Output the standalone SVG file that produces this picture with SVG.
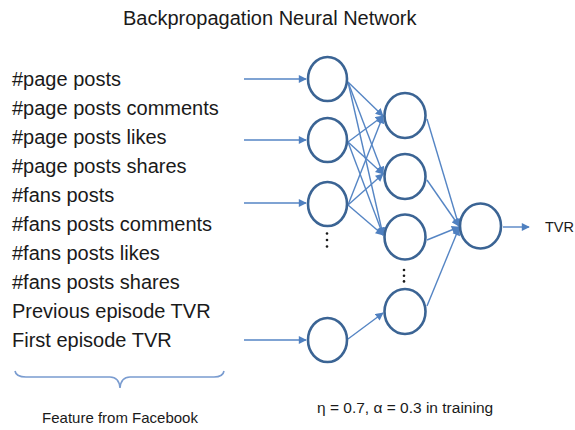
<svg xmlns="http://www.w3.org/2000/svg" width="575" height="430" viewBox="0 0 575 430">
<style>
  .t { font-family: "Liberation Sans", Arial, sans-serif; fill: #1a1a1a; }
  .lbl { font-size: 20px; }
  .node { fill: #ffffff; stroke: #3b6494; stroke-width: 2.6; }
  .edge { stroke: #5585c4; stroke-width: 1.4; fill: none; marker-end: url(#arr); }
  .dot { fill: #1a1a1a; }
</style>
<defs>
  <marker id="arr" viewBox="0 0 10 10" refX="9" refY="5" markerWidth="9" markerHeight="8" markerUnits="userSpaceOnUse" orient="auto">
    <path d="M0,0 L10,5 L0,10 z" fill="#4f80c0"/>
  </marker>
</defs>

<text class="t" x="123" y="25" font-size="20">Backpropagation Neural Network</text>

<g id="features">
  <text class="t lbl" x="12" y="86">#page posts</text>
  <text class="t lbl" x="12" y="115">#page posts comments</text>
  <text class="t lbl" x="12" y="144">#page posts likes</text>
  <text class="t lbl" x="12" y="173">#page posts shares</text>
  <text class="t lbl" x="12" y="202">#fans posts</text>
  <text class="t lbl" x="12" y="231">#fans posts comments</text>
  <text class="t lbl" x="12" y="260">#fans posts likes</text>
  <text class="t lbl" x="12" y="289">#fans posts shares</text>
  <text class="t lbl" x="12" y="318">Previous episode TVR</text>
  <text class="t lbl" x="12" y="347">First episode TVR</text>
</g>

<g id="brace">
  <path d="M15,371 Q16,377 26,377 L110,377 Q119,377 120,388 Q121,377 130,377 L214,377 Q223,377 224,371" fill="none" stroke="#7a9cd0" stroke-width="1.6"/>
  <text class="t" x="120" y="423" font-size="15" text-anchor="middle">Feature from Facebook</text>
</g>

<text class="t" x="317" y="413" font-size="15.5">η = 0.7, α = 0.3 in training</text>

<g id="connectors">
  <line class="edge" x1="244" y1="79" x2="306" y2="79"/>
  <line class="edge" x1="244" y1="140" x2="306" y2="140"/>
  <line class="edge" x1="244" y1="203" x2="306" y2="203"/>
  <line class="edge" x1="244" y1="340" x2="306" y2="340"/>

  <line class="edge" x1="348" y1="82" x2="383" y2="116"/>
  <line class="edge" x1="348" y1="82" x2="383" y2="174"/>
  <line class="edge" x1="348" y1="82" x2="383" y2="235"/>
  <line class="edge" x1="348" y1="142" x2="383" y2="116"/>
  <line class="edge" x1="348" y1="142" x2="383" y2="174"/>
  <line class="edge" x1="348" y1="142" x2="383" y2="235"/>
  <line class="edge" x1="348" y1="205" x2="383" y2="116"/>
  <line class="edge" x1="348" y1="205" x2="383" y2="174"/>
  <line class="edge" x1="348" y1="205" x2="383" y2="235"/>
  <line class="edge" x1="348" y1="339" x2="383" y2="313"/>

  <line class="edge" x1="427" y1="119" x2="459" y2="226"/>
  <line class="edge" x1="427" y1="180" x2="459" y2="226"/>
  <line class="edge" x1="427" y1="240" x2="459" y2="227"/>
  <line class="edge" x1="427" y1="306" x2="459" y2="228"/>

  <line class="edge" x1="503" y1="227" x2="529" y2="227"/>
</g>

<g id="in1"><ellipse class="node" cx="327.5" cy="79" rx="19.5" ry="22"/></g>
<g id="in2"><ellipse class="node" cx="327.5" cy="140" rx="19.5" ry="22"/></g>
<g id="in3"><ellipse class="node" cx="327.5" cy="204" rx="19.5" ry="22"/></g>
<g id="in4"><ellipse class="node" cx="327.5" cy="340" rx="19.5" ry="22"/></g>
<g id="in-dots">
  <circle class="dot" cx="327" cy="233.5" r="1.3"/>
  <circle class="dot" cx="327" cy="240" r="1.3"/>
  <circle class="dot" cx="327" cy="246.5" r="1.3"/>
</g>

<g id="h1"><ellipse class="node" cx="405" cy="115.5" rx="20.5" ry="22.5"/></g>
<g id="h2"><ellipse class="node" cx="405" cy="176.5" rx="20.5" ry="22.5"/></g>
<g id="h3"><ellipse class="node" cx="405" cy="237" rx="20.5" ry="22.5"/></g>
<g id="h4"><ellipse class="node" cx="405" cy="311.5" rx="20.5" ry="22.5"/></g>
<g id="h-dots">
  <circle class="dot" cx="404" cy="270" r="1.3"/>
  <circle class="dot" cx="404" cy="275.7" r="1.3"/>
  <circle class="dot" cx="404" cy="281.4" r="1.3"/>
</g>

<g id="out"><ellipse class="node" cx="480.5" cy="226" rx="20.5" ry="22.5"/></g>
<text class="t" x="545" y="232" font-size="14.5">TVR</text>
</svg>
